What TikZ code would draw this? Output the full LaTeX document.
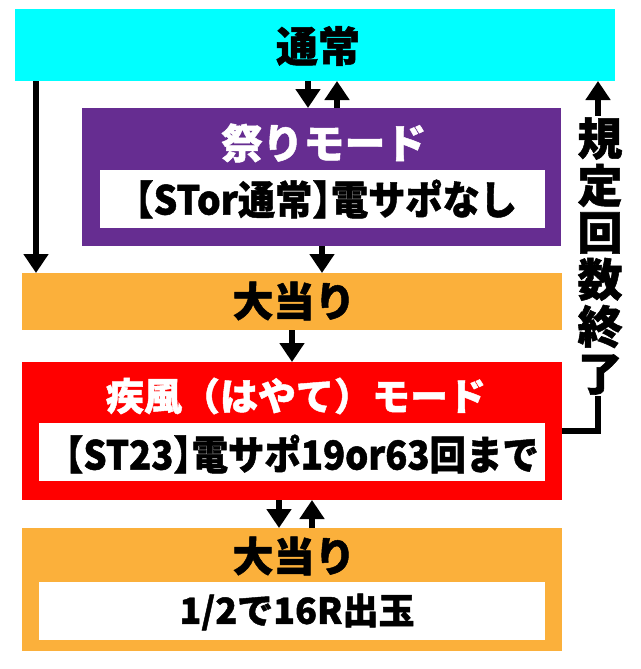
\documentclass[tikz,border=0pt]{standalone}
\usepackage{fontspec}
\usepackage{graphicx}
\setmainfont{Noto Sans CJK JP}[BoldFeatures={FakeBold=1.2}]
\usetikzlibrary{arrows.meta}
\definecolor{cyanc}{HTML}{00FFFF}
\definecolor{purplec}{HTML}{662D91}
\definecolor{orangec}{HTML}{FBB03B}
\definecolor{redc}{HTML}{FF0000}
\newcommand{\hsq}[2][0.93]{\scalebox{#1}[1]{#2}}
\newcommand{\hw}[1]{{\addfontfeature{RawFeature=+halt}#1}}
\begin{document}
\begin{tikzpicture}[x=1pt,y=-1pt,
  blk/.style={draw=none, inner sep=0pt, outer sep=0pt, anchor=north west},
  arr/.style={line width=6.5pt, -{Triangle[width=24pt,length=19pt]}},
  ttl/.style={font=\bfseries\fontsize{41}{41}\selectfont, inner sep=0pt},
  sub/.style={font=\bfseries\fontsize{40}{40}\selectfont, inner sep=0pt},
  vlab/.style={font=\bfseries\fontsize{45}{47}\selectfont, fill=white, inner sep=1pt, align=center}]
\useasboundingbox (0,0) rectangle (640,669);
% boxes
\node[blk, fill=cyanc, minimum width=600pt, minimum height=72pt] (normal) at (15,9) {};
\node[ttl, font=\bfseries\fontsize{42}{42}\selectfont] (normalT) at (318,46) {通常};
\node[blk, fill=purplec, minimum width=479pt, minimum height=138pt] (mat) at (82,108) {};
\node[ttl, text=white] (matT) at (324,143) {祭りモード};
\node[blk, fill=white, minimum width=445pt, minimum height=58pt] (matIn) at (100,170) {};
\node[sub] (matInT) at (326,199) {\hsq{\hw{【}STor通常\hw{】}電サポなし}};
\node[blk, fill=orangec, minimum width=540pt, minimum height=57pt] (hitA) at (22,273) {};
\node[ttl] (hitAT) at (294,301) {大当り};
\node[blk, fill=redc, minimum width=540pt, minimum height=138pt] (hayate) at (22,362) {};
\node[sub, font=\bfseries\fontsize{38}{38}\selectfont, text=white] (hayT) at (296,396) {疾風（はやて）モード};
\node[blk, fill=white, minimum width=506pt, minimum height=58pt] (hayIn) at (39,423) {};
\node[sub] (hayInT) at (302,454) {\hsq[0.91]{\hw{【}ST23\hw{】}電サポ19or63回まで}};
\node[blk, fill=orangec, minimum width=540pt, minimum height=123pt] (hitB) at (22,528) {};
\node[ttl] (hitBT) at (294,556) {大当り};
\node[blk, fill=white, minimum width=506pt, minimum height=58pt] (hitBIn) at (39,582) {};
\node[font=\bfseries\fontsize{36}{36}\selectfont, inner sep=0pt] (hitBInT) at (297,612) {1/2で16R出玉};
% connector x positions
\coordinate (xl) at (36,0);
\coordinate (xa) at (308,0);
\coordinate (xb) at (337,0);
\coordinate (xc) at (322,0);
\coordinate (xd) at (292,0);
\coordinate (xe) at (279,0);
\coordinate (xf) at (312,0);
\coordinate (xr) at (598,0);
% connectors
\draw[arr] (normal.south -| xl) -- (hitA.north -| xl);
\draw[arr] (normal.south -| xa) -- (mat.north -| xa);
\draw[arr] (mat.north -| xb) -- (normal.south -| xb);
\draw[arr] (mat.south -| xc) -- (hitA.north -| xc);
\draw[arr] (hitA.south -| xd) -- (hayate.north -| xd);
\draw[arr] (hayate.south -| xe) -- (hitB.north -| xe);
\draw[arr] (hitB.north -| xf) -- (hayate.south -| xf);
\draw[arr] (hayate.east) -| (xr |- normal.south);
\node[vlab] (lbl) at (600,256) {規\\定\\回\\数\\終\\了};
\end{tikzpicture}
\end{document}
